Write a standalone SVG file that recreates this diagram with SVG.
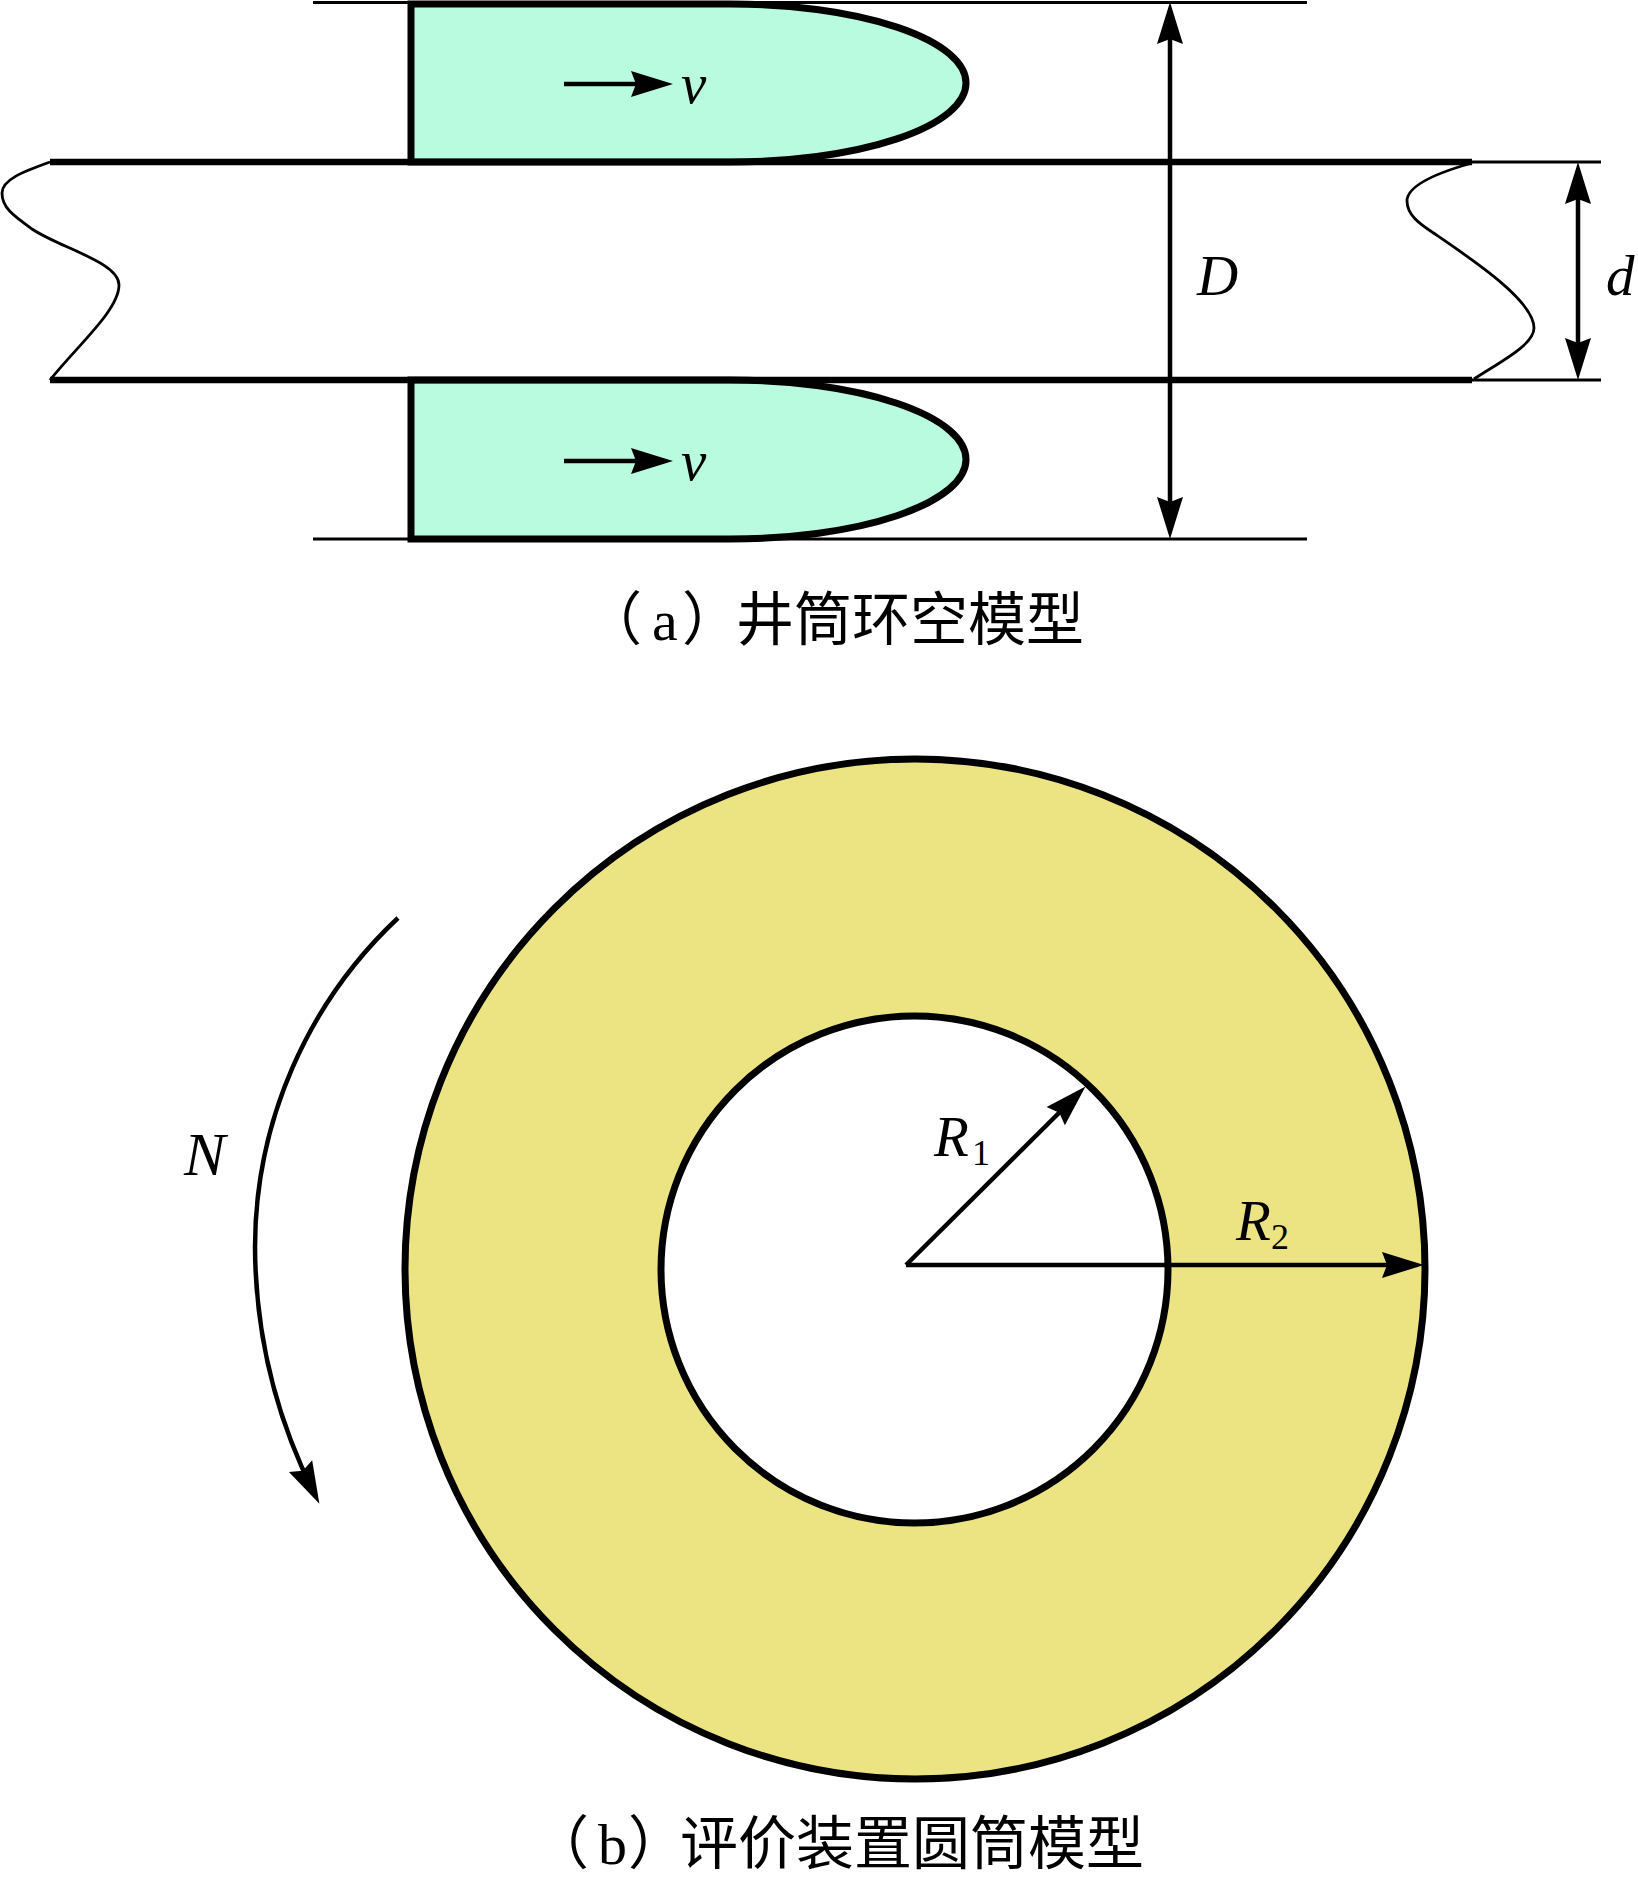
<svg xmlns="http://www.w3.org/2000/svg" width="1638" height="1882" viewBox="0 0 1638 1882">
<style>
.thin{fill:none;stroke:#000;stroke-width:3}
.thick{fill:none;stroke:#000;stroke-width:6.5}
.wave{fill:none;stroke:#000;stroke-width:2.8}
.arr{fill:none;stroke:#000;stroke-width:4.5;marker-end:url(#head)}
.arr2{fill:none;stroke:#000;stroke-width:4.5;marker-start:url(#head);marker-end:url(#head)}
.flow{fill:#B9FBDF;stroke:#000;stroke-width:7}
.m{font-family:"Liberation Serif",serif;font-style:italic;font-size:57px;fill:#000}
.s{font-family:"Liberation Serif",serif;font-size:36px;fill:#000}
.c{font-family:"Liberation Serif","Noto Sans CJK SC",sans-serif;font-size:58px;fill:#000}
</style>
<defs>
<marker id="head" markerUnits="userSpaceOnUse" markerWidth="44" markerHeight="28" refX="30" refY="14" orient="auto-start-reverse" overflow="visible">
<path d="M0 1L42 14L0 27L5 14Z" fill="#000"/>
</marker>
</defs>
<rect width="1638" height="1882" fill="#fff"/>
<g id="wall-lines">
<path class="thin" d="M313 2.5H1307M313 539H1307M1472 162H1601M1472 380H1601"/>
</g>
<g id="flow-top">
<path class="flow" d="M411 4H730A236 79 0 0 1 730 162H411Z"/>
</g>
<g id="flow-bottom">
<path class="flow" d="M411 380H730A236 79.5 0 0 1 730 539H411Z"/>
</g>
<g id="pipe">
<path class="thick" d="M50 162H1472M50 380H1472"/>
<path class="wave" d="M50 162C22 172 2 180 2 193C2 208 14 216 32 229C60 248 119 262 119 285C119 310 78 345 50 380"/>
<path class="wave" d="M1472 163C1440 172 1407 185 1407 201C1407 215 1420 224 1432 232C1470 258 1534 300 1534 328C1534 345 1500 362 1474 379"/>
</g>
<g id="annulus">
<circle cx="915" cy="1269" r="510" fill="#ECE483" stroke="#000" stroke-width="7"/>
<circle cx="914.5" cy="1269.5" r="253.5" fill="#fff" stroke="#000" stroke-width="7"/>
</g>
<g id="connectors">
<path class="arr" d="M564 84H661"/>
<path class="arr" d="M564 461H661"/>
<path class="arr2" d="M1170 14V527"/>
<path class="arr2" d="M1578 174V368"/>
<path class="arr" d="M906 1265L1077 1095"/>
<path class="arr" d="M906 1265H1412"/>
<path class="arr" d="M398 918A452 452 0 0 0 255 1247A555 555 0 0 0 314 1493"/>
</g>
<g id="labels">
<text class="m" x="681" y="103">v</text>
<text class="m" x="681" y="480">v</text>
<text class="m" x="1197" y="295">D</text>
<text class="m" x="1606" y="295">d</text>
<text class="m" x="184" y="1175" style="font-size:62px">N</text>
<text class="m" x="934" y="1156">R</text><text class="s" x="972" y="1165">1</text>
<text class="m" x="1236" y="1240">R</text><text class="s" x="1271" y="1249">2</text>
</g>
<g id="captions">
<text class="c" x="584 652 682 736 794 852 910 968 1026" y="640">（a）井筒环空模型</text>
<text class="c" x="531 598 628 680 738 796 854 912 970 1028 1086" y="1864">（b）评价装置圆筒模型</text>
</g>
</svg>
